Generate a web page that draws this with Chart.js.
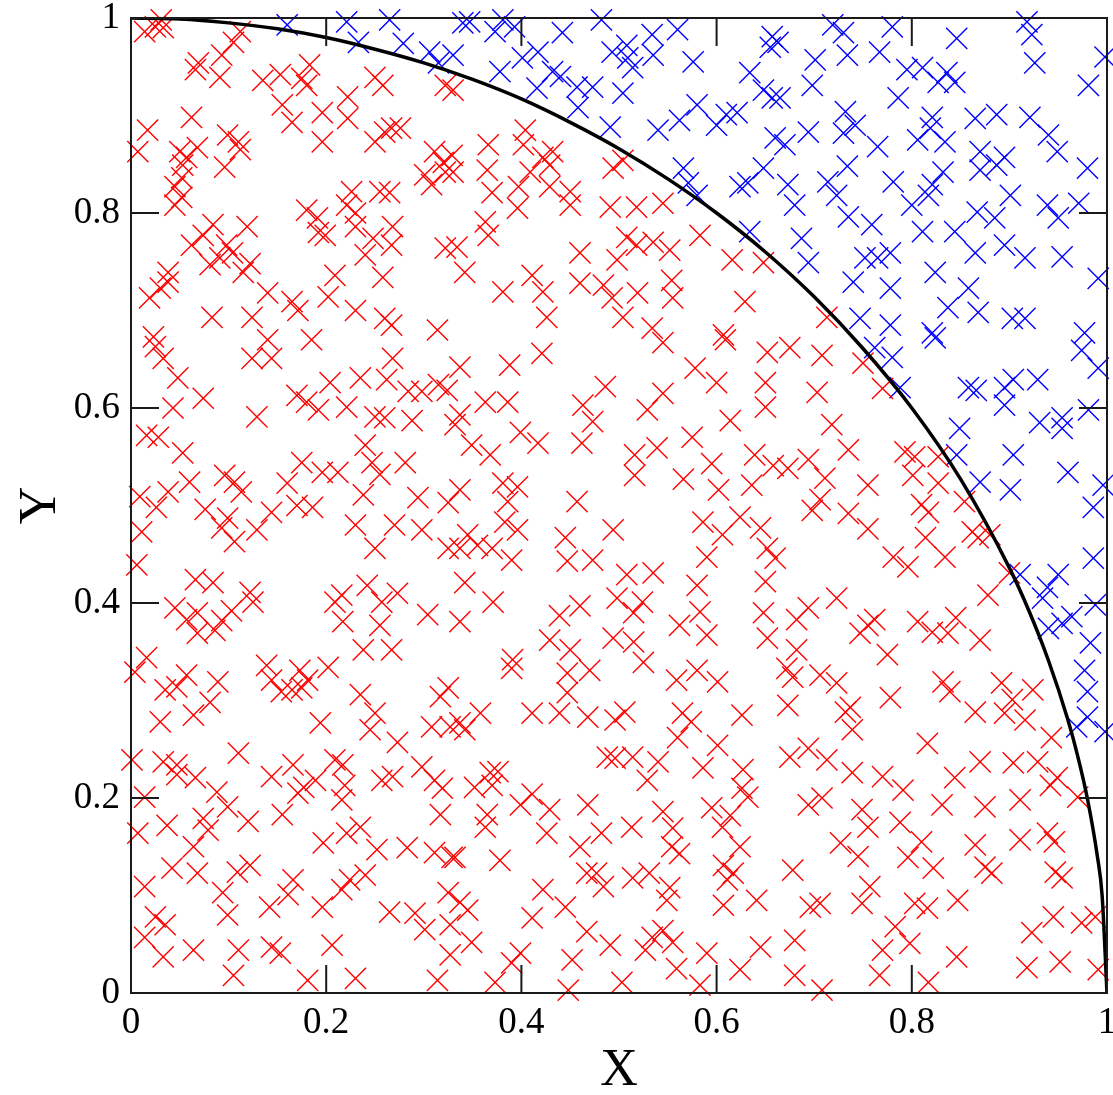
<!DOCTYPE html>
<html>
<head>
<meta charset="utf-8">
<script src="https://cdn.jsdelivr.net/npm/chart.js@4"></script>
<style>
  body { margin: 0; background: #fff; }
  #wrap { width: 1113px; height: 1095px; }
</style>
</head>
<body>
<div id="wrap"><canvas id="mc"></canvas></div>
<script>
// points inside the quarter circle
var redX = [0.031,0.033,0.014,0.025,0.112,0.105,0.069,0.066,0.091,0.093,0.135,0.153,0.175,0.183,0.180,0.155,0.165,0.196,0.196,0.222,0.222,0.250,0.258,0.260,0.267,0.276,0.250,0.322,0.017,0.007,0.062,0.050,0.057,0.068,0.053,0.045,0.052,0.052,0.045,0.099,0.110,0.112,0.096,0.180,0.191,0.192,0.199,0.221,0.230,0.226,0.255,0.265,0.230,0.268,0.248,0.267,0.240,0.258,0.301,0.308,0.322,0.320,0.311,0.322,0.084,0.074,0.062,0.098,0.119,0.104,0.091,0.081,0.115,0.122,0.038,0.038,0.030,0.019,0.140,0.165,0.171,0.202,0.209,0.230,0.260,0.267,0.083,0.124,0.023,0.314,
  0.330,0.329,0.330,0.366,0.365,0.404,0.402,0.422,0.432,0.429,0.409,0.397,0.429,0.450,0.370,0.396,0.450,0.363,0.366,0.334,0.342,0.381,0.411,0.422,0.426,0.460,0.460,0.484,0.493,0.504,0.494,0.504,0.491,0.518,0.545,0.508,0.518,0.535,0.552,0.498,0.519,0.554,0.555,0.534,0.583,0.616,0.629,0.648,0.607,0.713,
  0.025,0.033,0.048,0.043,0.074,0.124,0.144,0.140,0.185,0.016,0.028,0.053,0.129,0.170,0.180,0.192,0.204,0.221,0.235,0.262,0.268,0.284,0.298,0.315,0.324,0.250,0.260,0.288,0.096,0.106,0.113,0.060,0.038,0.009,0.026,0.076,0.099,0.093,0.106,0.129,0.144,0.160,0.170,0.186,0.175,0.196,0.212,0.240,0.247,0.255,0.238,0.281,0.294,0.325,0.230,0.270,0.298,0.250,0.325,0.011,0.006,0.066,0.084,0.045,0.057,0.068,0.086,0.068,0.093,0.103,0.122,0.125,0.209,0.216,0.217,0.242,0.257,0.273,0.255,0.304,0.238,0.267,0.016,
  0.337,0.388,0.421,0.363,0.386,0.337,0.332,0.349,0.368,0.399,0.417,0.463,0.486,0.473,0.462,0.529,0.545,0.545,0.609,0.578,0.600,0.650,0.652,0.650,0.614,0.575,0.539,0.516,0.516,0.566,0.595,0.639,0.658,0.602,0.636,0.337,0.381,0.396,0.386,0.457,0.383,0.396,0.345,0.355,0.337,0.370,0.390,0.445,0.447,0.473,0.494,0.586,0.606,0.624,0.645,0.652,0.590,0.580,0.650,0.508,0.535,0.342,0.371,0.337,0.460,0.439,0.429,0.450,0.498,0.524,0.515,0.494,0.515,0.562,0.590,0.583,0.648,0.652,0.391,
  0.675,0.708,0.703,0.750,0.770,0.718,0.735,0.694,0.673,0.711,0.706,0.698,0.735,0.755,0.755,0.793,0.803,0.801,0.827,0.827,0.810,0.817,0.854,0.862,0.868,0.880,0.814,0.834,0.796,0.781,0.660,0.878,0.900,0.694,0.682,0.723,0.755,0.747,0.762,0.806,0.821,0.837,0.845,0.870,0.775,0.682,
  0.004,0.035,0.047,0.057,0.089,0.081,0.064,0.030,0.139,0.144,0.154,0.165,0.175,0.181,0.173,0.202,0.235,0.250,0.245,0.194,0.273,0.308,0.327,0.317,0.325,0.001,0.033,0.047,0.047,0.066,0.110,0.088,0.099,0.074,0.079,0.037,0.007,0.014,0.120,0.064,0.144,0.166,0.177,0.189,0.171,0.155,0.209,0.217,0.219,0.216,0.257,0.268,0.298,0.311,0.319,0.317,0.197,0.221,0.235,0.252,0.283,0.311,0.329,0.042,0.068,0.014,0.109,0.122,0.094,0.166,0.161,0.142,0.099,0.216,0.224,0.196,0.240,0.265,0.291,0.301,0.325,0.327,0.025,0.035,0.014,0.033,0.064,0.110,0.144,0.153,0.206,0.105,0.181,0.230,0.314,0.327,
  0.390,0.447,0.470,0.447,0.525,0.559,0.580,0.601,0.358,0.337,0.342,0.411,0.439,0.468,0.496,0.506,0.565,0.574,0.626,0.488,0.496,0.514,0.540,0.560,0.529,0.601,0.586,0.627,0.368,0.376,0.352,0.370,0.365,0.363,0.411,0.399,0.429,0.426,0.468,0.460,0.482,0.513,0.332,0.378,0.545,0.555,0.554,0.562,0.595,0.614,0.606,0.632,0.626,0.624,0.607,0.617,0.611,0.467,0.477,0.484,0.514,0.531,0.552,0.549,0.422,0.445,0.467,0.491,0.452,0.503,0.448,0.527,0.534,0.545,0.555,0.559,0.583,0.590,0.607,0.641,0.645,0.624,0.337,0.345,0.349,0.411,0.399,0.390,0.373,
  0.672,0.678,0.706,0.723,0.673,0.732,0.737,0.739,0.778,0.832,0.839,0.865,0.892,0.903,0.895,0.916,0.924,0.816,0.694,0.713,0.675,0.739,0.770,0.791,0.844,0.870,0.904,0.929,0.942,0.949,0.943,0.970,0.708,0.694,0.831,0.875,0.911,0.749,0.755,0.788,0.727,0.745,0.810,0.865,0.911,0.939,0.946,0.796,0.822,0.875,0.882,0.947,0.954,0.678,0.757,0.803,0.816,0.847,0.696,0.706,0.749,0.783,0.798,0.680,0.770,0.846,0.923,0.945,0.974,0.988,0.952,0.918,0.991,0.767,0.817,0.708,0.680];
var redY = [0.998,0.990,0.986,0.991,0.986,0.975,0.954,0.947,0.939,0.962,0.936,0.942,0.938,0.952,0.931,0.911,0.893,0.903,0.873,0.919,0.897,0.939,0.931,0.883,0.887,0.887,0.873,0.931,0.885,0.863,0.898,0.863,0.857,0.867,0.849,0.827,0.836,0.816,0.808,0.880,0.873,0.865,0.847,0.803,0.795,0.780,0.777,0.808,0.800,0.822,0.822,0.821,0.786,0.786,0.774,0.767,0.757,0.734,0.839,0.829,0.842,0.852,0.863,0.764,0.788,0.777,0.767,0.767,0.786,0.759,0.754,0.747,0.739,0.748,0.739,0.729,0.723,0.713,0.718,0.709,0.700,0.714,0.736,0.700,0.692,0.685,0.693,0.693,0.673,0.680,
  0.926,0.859,0.842,0.870,0.844,0.885,0.870,0.857,0.863,0.849,0.842,0.827,0.827,0.822,0.821,0.805,0.808,0.791,0.777,0.765,0.739,0.719,0.736,0.719,0.693,0.759,0.728,0.726,0.713,0.693,0.846,0.854,0.806,0.806,0.810,0.775,0.767,0.770,0.762,0.752,0.718,0.731,0.713,0.682,0.777,0.752,0.709,0.749,0.675,0.693,
  0.663,0.651,0.631,0.600,0.610,0.651,0.651,0.670,0.670,0.572,0.570,0.554,0.591,0.613,0.606,0.598,0.626,0.601,0.631,0.629,0.651,0.617,0.617,0.624,0.618,0.591,0.590,0.587,0.531,0.524,0.514,0.524,0.514,0.509,0.498,0.496,0.487,0.477,0.463,0.475,0.493,0.523,0.500,0.498,0.544,0.534,0.534,0.562,0.544,0.532,0.511,0.544,0.508,0.503,0.480,0.480,0.475,0.456,0.456,0.473,0.439,0.424,0.421,0.395,0.383,0.390,0.372,0.369,0.382,0.392,0.411,0.401,0.401,0.408,0.381,0.418,0.401,0.410,0.377,0.388,0.352,0.352,0.344,
  0.642,0.644,0.656,0.606,0.606,0.593,0.583,0.562,0.552,0.575,0.564,0.603,0.622,0.586,0.564,0.598,0.615,0.667,0.670,0.641,0.626,0.626,0.657,0.601,0.587,0.570,0.559,0.552,0.531,0.527,0.543,0.552,0.541,0.516,0.521,0.516,0.523,0.519,0.504,0.504,0.483,0.475,0.470,0.459,0.456,0.456,0.444,0.467,0.443,0.444,0.475,0.483,0.470,0.488,0.477,0.456,0.447,0.418,0.422,0.429,0.431,0.421,0.401,0.381,0.397,0.387,0.362,0.352,0.405,0.401,0.390,0.364,0.360,0.377,0.367,0.391,0.390,0.364,0.342,
  0.662,0.654,0.616,0.646,0.620,0.583,0.557,0.547,0.538,0.528,0.506,0.495,0.492,0.521,0.476,0.555,0.550,0.531,0.523,0.550,0.501,0.493,0.504,0.473,0.467,0.470,0.467,0.447,0.437,0.447,0.446,0.408,0.431,0.395,0.383,0.405,0.377,0.369,0.383,0.381,0.370,0.369,0.385,0.362,0.347,0.352,
  0.329,0.311,0.314,0.326,0.319,0.298,0.285,0.278,0.336,0.321,0.309,0.311,0.313,0.321,0.331,0.334,0.306,0.287,0.270,0.277,0.257,0.273,0.273,0.304,0.313,0.239,0.237,0.234,0.224,0.221,0.246,0.206,0.191,0.179,0.167,0.172,0.164,0.201,0.176,0.150,0.222,0.234,0.211,0.218,0.205,0.183,0.239,0.234,0.213,0.198,0.218,0.222,0.232,0.218,0.210,0.183,0.154,0.164,0.170,0.147,0.149,0.144,0.139,0.128,0.123,0.109,0.124,0.131,0.103,0.116,0.101,0.088,0.080,0.106,0.116,0.088,0.121,0.083,0.082,0.065,0.103,0.070,0.078,0.070,0.057,0.037,0.044,0.044,0.047,0.041,0.049,0.018,0.013,0.015,0.013,0.039,
  0.333,0.328,0.331,0.308,0.339,0.321,0.331,0.319,0.287,0.277,0.270,0.287,0.287,0.283,0.280,0.288,0.287,0.278,0.285,0.242,0.241,0.242,0.237,0.262,0.218,0.254,0.231,0.229,0.226,0.227,0.211,0.213,0.183,0.170,0.204,0.193,0.188,0.164,0.193,0.150,0.164,0.170,0.139,0.136,0.186,0.169,0.150,0.143,0.190,0.182,0.170,0.201,0.210,0.150,0.131,0.123,0.116,0.123,0.123,0.109,0.118,0.123,0.108,0.095,0.106,0.088,0.063,0.049,0.034,0.011,0.003,0.044,0.057,0.064,0.052,0.025,0.008,0.041,0.090,0.095,0.047,0.024,0.093,0.085,0.052,0.077,0.041,0.031,0.011,
  0.333,0.324,0.326,0.318,0.295,0.288,0.293,0.270,0.303,0.319,0.309,0.288,0.318,0.301,0.287,0.280,0.311,0.256,0.251,0.239,0.242,0.226,0.222,0.208,0.221,0.237,0.236,0.237,0.213,0.221,0.262,0.201,0.200,0.193,0.193,0.191,0.198,0.188,0.170,0.175,0.154,0.140,0.155,0.152,0.157,0.164,0.155,0.139,0.128,0.129,0.123,0.124,0.118,0.126,0.109,0.092,0.087,0.095,0.088,0.092,0.092,0.068,0.051,0.054,0.044,0.037,0.062,0.078,0.072,0.078,0.032,0.026,0.024,0.018,0.011,0.003,0.018];

// points outside the quarter circle
var blueX = [0.160,0.221,0.233,0.265,0.279,0.306,0.315,0.330,
  0.340,0.347,0.381,0.373,0.393,0.378,0.401,0.417,0.432,0.440,0.416,0.457,0.458,0.442,0.473,0.482,0.493,0.508,0.509,0.514,0.504,0.491,0.534,0.535,0.560,0.576,0.540,0.562,0.580,0.600,0.610,0.621,0.634,0.648,0.657,0.657,0.655,0.660,0.566,0.571,0.580,0.624,0.632,0.648,0.634,
  0.719,0.730,0.734,0.701,0.663,0.698,0.665,0.780,0.767,0.846,0.795,0.811,0.827,0.836,0.844,0.918,0.923,0.926,0.998,0.981,0.786,0.732,0.742,0.730,0.694,0.670,0.765,0.821,0.819,0.806,0.834,0.865,0.887,0.921,0.940,0.949,0.870,0.895,0.887,0.870,0.980,0.673,0.714,0.723,0.734,0.781,0.821,0.832,0.817,0.680,0.735,0.759,0.800,0.811,0.844,0.867,0.901,0.885,0.895,0.865,0.939,0.950,0.971,0.954,0.916,0.991,0.687,0.694,0.752,0.765,0.778,0.740,0.824,0.858,0.837,0.868,0.778,0.747,0.778,0.821,0.916,0.903,0.977,
  0.780,0.762,0.824,0.788,0.858,0.866,0.895,0.904,0.929,0.895,0.931,0.954,0.954,0.981,0.849,0.846,0.904,0.960,0.870,0.901,0.996,0.986,0.986,0.991,0.974,0.911,0.939,0.950,0.934,0.954,0.964,0.988,0.983,0.940,
  0.977,0.980,0.980,0.969,0.998];
var blueY = [0.993,0.996,0.975,0.998,0.974,0.965,0.954,0.962,
  0.995,0.996,0.998,0.986,0.991,0.945,0.959,0.965,0.945,0.940,0.928,0.929,0.908,0.985,0.929,0.998,0.965,0.972,0.959,0.949,0.923,0.888,0.983,0.962,0.988,0.955,0.885,0.895,0.911,0.890,0.901,0.903,0.944,0.926,0.918,0.981,0.970,0.877,0.846,0.831,0.818,0.827,0.831,0.846,0.781,
  0.993,0.985,0.962,0.957,0.975,0.931,0.918,0.991,0.965,0.979,0.947,0.949,0.934,0.944,0.934,0.996,0.983,0.954,0.960,0.931,0.918,0.904,0.890,0.882,0.883,0.870,0.868,0.898,0.887,0.875,0.873,0.897,0.901,0.898,0.880,0.863,0.863,0.857,0.849,0.844,0.846,0.829,0.832,0.818,0.848,0.832,0.829,0.842,0.818,0.808,0.796,0.788,0.808,0.781,0.781,0.801,0.818,0.795,0.767,0.759,0.808,0.795,0.810,0.755,0.754,0.733,0.774,0.749,0.754,0.754,0.759,0.729,0.739,0.723,0.703,0.698,0.723,0.692,0.685,0.677,0.692,0.692,0.677,
  0.652,0.662,0.672,0.621,0.621,0.618,0.621,0.629,0.629,0.603,0.585,0.590,0.579,0.598,0.579,0.552,0.552,0.534,0.524,0.516,0.521,0.498,0.446,0.641,0.659,0.429,0.416,0.429,0.405,0.379,0.386,0.398,0.359,0.374,
  0.331,0.309,0.283,0.273,0.268];

// the circle x^2 + y^2 = 1, as drawn
var circleX = [0,0.05,0.1,0.15,0.2,0.25,0.3,0.35,0.4,0.45,0.5,0.55,0.6,0.65,0.7,0.75,0.8,0.85,0.9,0.92,0.94,0.96,0.97,0.98,0.99,0.995,1];
var circleY = [1,0.999,0.995,0.989,0.980,0.968,0.954,0.937,0.917,0.893,0.866,0.835,0.800,0.760,0.714,0.661,0.600,0.527,0.436,0.392,0.341,0.280,0.243,0.199,0.141,0.100,0];

var tickValues = [0, 0.2, 0.4, 0.6, 0.8, 1];
var tickLabels = ['0', '0.2', '0.4', '0.6', '0.8', '1'];

function toPoints(xs, ys) {
	var pts = [];
	for (var i = 0; i < xs.length; i++) {
		pts.push({x: xs[i], y: ys[i]});
	}
	return pts;
}

// box round the plot and the inward tick marks on all four sides
var frame = {
	id: 'frame',
	afterDatasetsDraw: function(chart) {
		var ctx = chart.ctx;
		var a = chart.chartArea;
		var xs = chart.scales.x, ys = chart.scales.y;
		ctx.save();
		ctx.strokeStyle = '#1a1a1a';
		ctx.lineWidth = 2;
		ctx.strokeRect(a.left, a.top, a.right - a.left, a.bottom - a.top);
		ctx.beginPath();
		tickValues.slice(1, -1).forEach(function(v) {
			var px = xs.getPixelForValue(v);
			var py = ys.getPixelForValue(v);
			ctx.moveTo(px, a.bottom); ctx.lineTo(px, a.bottom - 28);
			ctx.moveTo(px, a.top); ctx.lineTo(px, a.top + 28);
			ctx.moveTo(a.left, py); ctx.lineTo(a.left + 28, py);
			ctx.moveTo(a.right, py); ctx.lineTo(a.right - 28, py);
		});
		ctx.stroke();
		ctx.restore();
	}
};

var tickFont = {family: 'Liberation Serif', size: 37};
var titleFont = {family: 'Liberation Serif', size: 52, lineHeight: 0.9};

function axis(extra) {
	var s = {
		type: 'linear',
		min: 0,
		max: 1,
		grid: {display: false, drawTicks: false},
		border: {display: false},
		afterBuildTicks: function(scale) {
			scale.ticks = tickValues.map(function(v) { return {value: v}; });
		},
		ticks: {
			color: '#000',
			font: tickFont,
			autoSkip: false,
			maxRotation: 0,
			callback: function(v, i) { return tickLabels[i]; }
		}
	};
	for (var k in extra) s[k] = extra[k];
	return s;
}

var ctx = document.getElementById('mc').getContext('2d');
var chart = new Chart(ctx, {
	type: 'scatter',
	data: {
		datasets: [{
			type: 'line',
			label: 'circle',
			data: toPoints(circleX, circleY),
			borderColor: '#000',
			borderWidth: 3.5,
			pointRadius: 0,
			cubicInterpolationMode: 'monotone',
			fill: false
		}, {
			label: 'inside',
			data: toPoints(redX, redY),
			pointStyle: 'crossRot',
			pointRadius: 15,
			pointBorderWidth: 1.4,
			borderColor: '#ff0000',
			backgroundColor: '#ff0000',
			clip: false
		}, {
			label: 'outside',
			data: toPoints(blueX, blueY),
			pointStyle: 'crossRot',
			pointRadius: 15,
			pointBorderWidth: 1.4,
			borderColor: '#0000ff',
			backgroundColor: '#0000ff',
			clip: false
		}]
	},
	plugins: [frame],
	options: {
		responsive: true,
		maintainAspectRatio: false,
		animation: false,
		layout: {autoPadding: false, padding: {top: 18, right: 6, left: 0, bottom: 0}},
		plugins: {legend: {display: false}, tooltip: {enabled: false}},
		scales: {
			x: axis({
				position: 'bottom',
				afterFit: function(scale) {
					scale.height = 102;
					scale.paddingLeft = 0;
					scale.paddingRight = 0;
				},
				title: {display: true, text: 'X', color: '#000', font: titleFont, padding: {top: 0, bottom: 0}}
			}),
			y: axis({
				position: 'left',
				afterFit: function(scale) {
					scale.width = 131;
					scale.paddingTop = 0;
					scale.paddingBottom = 0;
				},
				title: {display: true, text: 'Y', color: '#000', font: titleFont, padding: {top: 18, bottom: 0}}
			})
		}
	}
});
chart.options.scales.x.ticks.padding = 8;
chart.options.scales.y.ticks.padding = 11;
chart.update();
</script>
</body>
</html>
